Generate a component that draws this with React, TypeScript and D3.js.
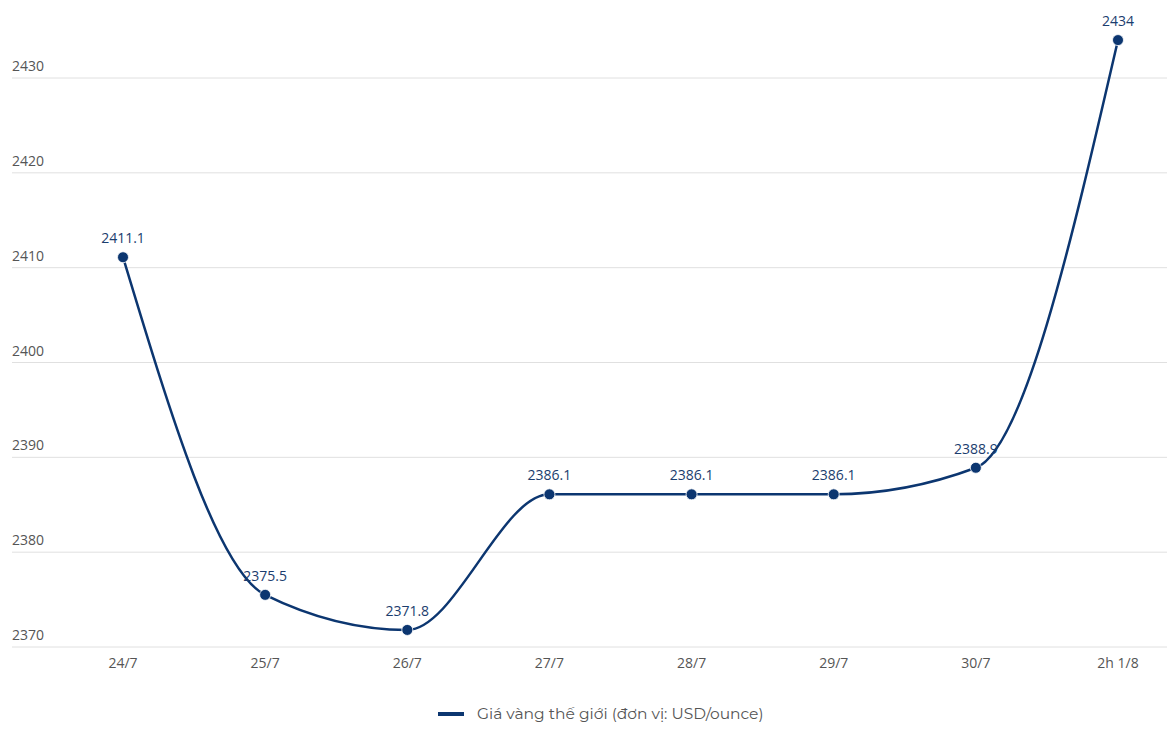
import React, { useEffect, useRef } from "react";
import * as d3 from "d3";

const categories = ["24/7", "25/7", "26/7", "27/7", "28/7", "29/7", "30/7", "2h 1/8"];
const prices = [2411.1, 2375.5, 2371.8, 2386.1, 2386.1, 2386.1, 2388.9, 2434];
const yTicks = [2370, 2380, 2390, 2400, 2410, 2420, 2430];
const seriesName = "Giá vàng thế giới (đơn vị: USD/ounce)";

const App = () => {
  const svgRef = useRef<SVGSVGElement | null>(null);

  useEffect(() => {
    const width = 1167;
    const lineColor = "#0c3670";
    const font = "'Open Sans', 'Noto Sans', sans-serif";

    const svg = d3.select(svgRef.current);
    svg.selectAll("*").remove();

    const x = d3.scalePoint<string>().domain(categories).range([123, 1118]);
    const y = d3.scaleLinear().domain([2370, 2430]).range([647, 78]);

    // grid + y labels
    const grid = svg.append("g");
    grid
      .selectAll("line")
      .data(yTicks)
      .join("line")
      .attr("x1", 12)
      .attr("x2", width)
      .attr("y1", (d) => y(d))
      .attr("y2", (d) => y(d))
      .attr("stroke", "#e0e0e0")
      .attr("stroke-width", 1);
    grid
      .selectAll("text")
      .data(yTicks)
      .join("text")
      .attr("x", 12)
      .attr("y", (d) => y(d) - 7)
      .attr("fill", "#555")
      .attr("font-family", font)
      .attr("font-size", 14)
      .text((d) => d);

    // x labels
    svg
      .append("g")
      .selectAll("text")
      .data(categories)
      .join("text")
      .attr("x", (d) => x(d)!)
      .attr("y", 668)
      .attr("text-anchor", "middle")
      .attr("fill", "#555")
      .attr("font-family", font)
      .attr("font-size", 14)
      .text((d) => d);

    const data = categories.map((c, i) => ({ c, v: prices[i] }));
    const line = d3
      .line<{ c: string; v: number }>()
      .x((d) => x(d.c)!)
      .y((d) => y(d.v))
      .curve(d3.curveMonotoneX);

    svg
      .append("path")
      .attr("d", line(data))
      .attr("fill", "none")
      .attr("stroke", lineColor)
      .attr("stroke-width", 2.5);

    svg
      .append("g")
      .selectAll("circle")
      .data(data)
      .join("circle")
      .attr("cx", (d) => x(d.c)!)
      .attr("cy", (d) => y(d.v))
      .attr("r", 5.5)
      .attr("fill", lineColor)
      .attr("stroke", "#fff")
      .attr("stroke-width", 0.8);

    svg
      .append("g")
      .selectAll("text")
      .data(data)
      .join("text")
      .attr("x", (d) => x(d.c)!)
      .attr("y", (d) => y(d.v) - 14)
      .attr("text-anchor", "middle")
      .attr("fill", "#1b3d6e")
      .attr("font-family", font)
      .attr("font-size", 14)
      .text((d) => d.v);

    // legend
    const legend = svg.append("g").attr("transform", "translate(438,714)");
    legend
      .append("line")
      .attr("x1", 0)
      .attr("x2", 26)
      .attr("stroke", lineColor)
      .attr("stroke-width", 4);
    legend
      .append("text")
      .attr("x", 39)
      .attr("y", 5)
      .attr("fill", "#555")
      .attr("font-family", "Montserrat, 'Open Sans', sans-serif")
      .attr("font-size", 15.5)
      .text(seriesName);
  }, []);

  return (
    <div style={{ position: "absolute", top: 0, left: 0 }}>
      <svg ref={svgRef} width={1167} height={742} style={{ display: "block", background: "#fff" }} />
    </div>
  );
};

export default App;
